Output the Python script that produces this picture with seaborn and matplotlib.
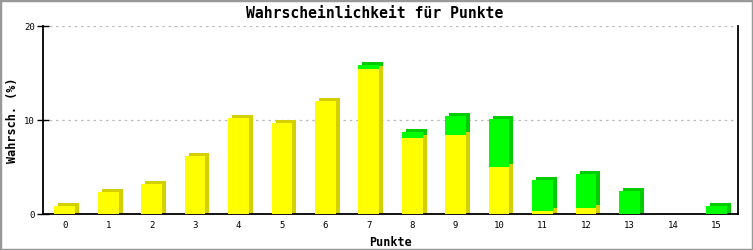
import matplotlib
matplotlib.use("Agg")
import matplotlib.pyplot as plt
from matplotlib.transforms import ScaledTranslation
from matplotlib.patches import Rectangle
import seaborn as sns
import pandas as pd

points = [str(i) for i in range(16)]
yellow_vals = [0.85, 2.35, 3.2, 6.2, 10.25, 9.7, 12.0, 15.45, 8.1, 8.4, 5.0, 0.35, 0.65, 0.0, 0.0, 0.0]
total_vals = [0.85, 2.35, 3.2, 6.2, 10.25, 9.7, 12.0, 15.85, 8.7, 10.45, 10.1, 3.6, 4.25, 2.45, 0.0, 0.85]
yticks = [0, 10, 20]

df = pd.DataFrame({"Punkte": points, "gelb": yellow_vals, "gesamt": total_vals})

sns.set_style("white")
plt.rcParams['font.family'] = ['DejaVu Sans Mono', 'DejaVu Sans']
plt.rcParams.update({'text.color': 'black', 'axes.labelcolor': 'black',
                     'xtick.color': 'black', 'ytick.color': 'black'})

fig = plt.figure(figsize=(7.53, 2.5), dpi=100)
ax = fig.add_axes([43/753, 1-214/250, (738-43)/753, (214-26)/250])

Y, YD = "#ffff00", "#d4d000"
G, GD = "#00ff00", "#00cc00"
W = 0.477
off = ScaledTranslation(4/100, 3/100, fig.dpi_scale_trans)

n0 = len(ax.patches)
sns.barplot(data=df, x="Punkte", y="gesamt", color=GD, width=W, saturation=1, linewidth=0, ax=ax, zorder=2)
sns.barplot(data=df, x="Punkte", y="gelb", color=YD, width=W, saturation=1, linewidth=0, ax=ax, zorder=2)
ax.set_ylim(0, 20)
ext = 20 * 3.5 / 188  # depth offset in data units, so the side face reaches the axis
for p in ax.patches[n0:]:
    p.set_transform(ax.transData + off)
    if p.get_height() > 0:
        p.set_y(p.get_y() - ext)
        p.set_height(p.get_height() + ext)
sns.barplot(data=df, x="Punkte", y="gesamt", color=G, width=W, saturation=1, linewidth=0, ax=ax, zorder=3)
sns.barplot(data=df, x="Punkte", y="gelb", color=Y, width=W, saturation=1, linewidth=0, ax=ax, zorder=3)

ax.set_xlim(-0.5, 15.5)
ax.set_ylim(0, 20)
ax.set_yticks(yticks)
ax.set_yticklabels([str(v) for v in yticks], fontsize=6.5)
ax.tick_params(axis='y', direction='inout', length=8, width=1, color='black', pad=2, left=True)
ax.tick_params(axis='x', length=0, labelsize=6.5, pad=5)
ax.yaxis.grid(True, color='#bbbbbb', linestyle=(0, (2, 3)), linewidth=0.9, zorder=0)
ax.set_axisbelow(True)
for s in ['left', 'right', 'bottom']:
    ax.spines[s].set_visible(True)
    ax.spines[s].set_color('black')
    ax.spines[s].set_linewidth(1.3)
ax.spines['top'].set_visible(False)

ax.set_xlabel("Punkte", fontsize=8.5, fontweight='bold', labelpad=4)
ax.set_ylabel("Wahrsch. (%)", fontsize=8.5, fontweight='bold')
ax.yaxis.set_label_coords((19 - 43) / 695, 0.5)
fig.text(375/753, 1-13/250, "Wahrscheinlichkeit für Punkte", ha='center', va='center',
         fontsize=10.6, fontweight='bold')

fig.patches.append(Rectangle((0, 0), 1, 1, transform=fig.transFigure, fill=False,
                             edgecolor='#999999', linewidth=2.5, zorder=10))

fig.savefig("out.png", dpi=100, facecolor='white')
